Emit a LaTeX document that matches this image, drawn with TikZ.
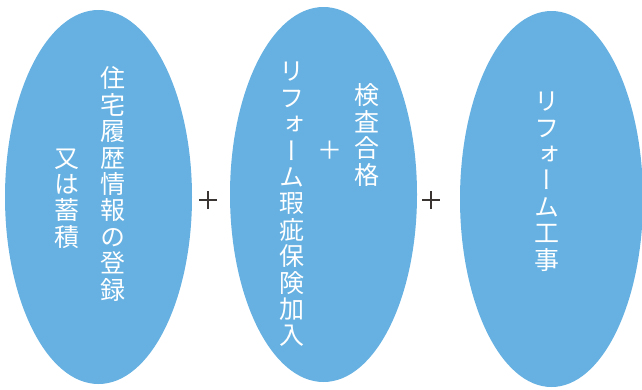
\documentclass[tikz,border=0pt]{standalone}
\usepackage{fontspec}
\usetikzlibrary{shapes.geometric}
\newfontfamily\vjp[RawFeature=+vert]{Noto Sans CJK JP}
\definecolor{ellblue}{HTML}{66B1E1}
\definecolor{plusgray}{HTML}{3A3533}
\tikzset{
  oval/.style={ellipse, fill=ellblue, draw=none, inner sep=0pt},
  vcol/.style={text=white, align=center, inner sep=0pt, font=\vjp\fontsize{25}{26.4}\selectfont},
  plusmark/.style={inner sep=0pt, minimum size=0pt},
  plusline/.style={draw=plusgray, line width=1.2pt}
}
\begin{document}
\begin{tikzpicture}[x=1pt, y=-1pt]
\useasboundingbox (0,0) rectangle (642,389);
\node[oval, minimum width=187pt, minimum height=374pt] (e1) at (98.5,197) {};
\node[oval, minimum width=187pt, minimum height=375pt] (e2) at (323.5,194.5) {};
\node[oval, minimum width=183pt, minimum height=376pt] (e3) at (551.5,199) {};
% texts
\node[vcol] (t1a) at (113,184) {住\\宅\\履\\歴\\情\\報\\の\\登\\録};
\node[vcol] (t1b) at (67,198.5) {又\\は\\蓄\\積};
\node[vcol] (t2a) at (292,204.5) {リ\\フ\\ォ\\ー\\ム\\瑕\\疵\\保\\険\\加\\入};
\node[vcol] (t2p) at (330,150) {＋};
\node[vcol] (t2b) at (367,135) {検\\査\\合\\格};
\node[vcol] (t3) at (547,181.5) {リ\\フ\\ォ\\ー\\ム\\工\\事};
% plus signs between ovals
\node[plusmark] (p1) at (208,200) {};
\node[plusmark] (p2) at (431,200) {};
\draw[plusline] ([xshift=-9pt]p1.center) -- ([xshift=9pt]p1.center);
\draw[plusline] ([yshift=-9pt]p1.center) -- ([yshift=9pt]p1.center);
\draw[plusline] ([xshift=-9pt]p2.center) -- ([xshift=9pt]p2.center);
\draw[plusline] ([yshift=-9pt]p2.center) -- ([yshift=9pt]p2.center);
\end{tikzpicture}
\end{document}
